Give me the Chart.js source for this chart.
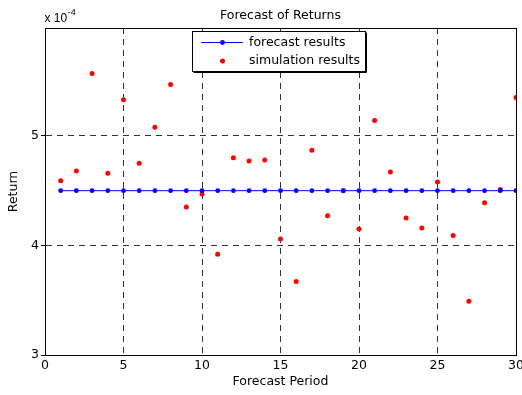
<!DOCTYPE html>
<html>
<head>
<meta charset="utf-8">
<title>Forecast of Returns</title>
<script src="https://cdn.jsdelivr.net/npm/chart.js@4"></script>
<style>
  html, body { margin: 0; padding: 0; background: #fff; }
  #wrap { width: 522px; height: 395px; }
</style>
</head>
<body>
<div id="wrap"><canvas id="chart"></canvas></div>
<script>
// returns are in units of 10^-4 (the axis shows "x 10^-4")
const periods = [1, 2, 3, 4, 5, 6, 7, 8, 9, 10, 11, 12, 13, 14, 15, 16, 17, 18, 19, 20, 21, 22, 23, 24, 25, 26, 27, 28, 29, 30];
const forecast = [4.5, 4.5, 4.5, 4.5, 4.5, 4.5, 4.5, 4.5, 4.5, 4.5, 4.5, 4.5, 4.5, 4.5, 4.5, 4.5, 4.5, 4.5, 4.5, 4.5, 4.5, 4.5, 4.5, 4.5, 4.5, 4.5, 4.5, 4.5, 4.5, 4.5];
const simulation = [4.59, 4.68, 5.57, 4.66, 5.33, 4.75, 5.08, 5.47, 4.35, 4.47, 3.92, 4.80, 4.77, 4.78, 4.06, 3.67, 4.87, 4.27, 4.50, 4.15, 5.14, 4.67, 4.25, 4.16, 4.58, 4.09, 3.49, 4.39, 4.51, 5.35];
const xTicks = [0, 5, 10, 15, 20, 25, 30];
const yTicks = [3, 4, 5];

const FONT = '"DejaVu Sans", sans-serif';
const GRID = 'rgba(0,0,0,0.8)';

// MATLAB-ish extras: frame box, title, exponent label and the legend inside the axes
const matlabFrame = {
  id: 'matlabFrame',
  afterDraw(chart) {
    const { ctx, chartArea: a } = chart;
    const ds = chart.data.datasets;
    ctx.save();

    // axes box
    ctx.strokeStyle = '#000';
    ctx.lineWidth = 1;
    ctx.strokeRect(Math.round(a.left) + 0.5, Math.round(a.top) + 0.5,
      Math.round(a.right - a.left), Math.round(a.bottom - a.top));

    // title
    ctx.fillStyle = '#000';
    ctx.font = '12.5px ' + FONT;
    ctx.textAlign = 'center';
    ctx.textBaseline = 'alphabetic';
    ctx.fillText('Forecast of Returns', (a.left + a.right) / 2, 18.5);

    // exponent label
    ctx.textAlign = 'left';
    ctx.font = '12px "Liberation Sans", Arial, sans-serif';
    ctx.fillText('x 10', 44.5, 21.7);
    const w = ctx.measureText('x 10').width;
    ctx.font = '9px "Liberation Sans", Arial, sans-serif';
    ctx.fillText('-4', 44.5 + w + 0.5, 15);

    // legend
    const lx = 192.5, ly = 31.5, lw = 173, lh = 40;
    ctx.fillStyle = '#fff';
    ctx.fillRect(lx, ly, lw, lh);
    ctx.strokeStyle = '#000';
    ctx.strokeRect(lx, ly, lw, lh);
    ctx.beginPath();
    ctx.moveTo(lx + 1, ly + lh + 1);
    ctx.lineTo(lx + lw + 1, ly + lh + 1);
    ctx.lineTo(lx + lw + 1, ly + 1);
    ctx.stroke();

    const row1 = 42.5, row2 = 61;
    ctx.strokeStyle = ds[0].borderColor;
    ctx.beginPath();
    ctx.moveTo(201, row1);
    ctx.lineTo(243, row1);
    ctx.stroke();
    ctx.fillStyle = ds[0].backgroundColor;
    ctx.beginPath();
    ctx.arc(222.5, row1, ds[0].pointRadius, 0, Math.PI * 2);
    ctx.fill();
    ctx.fillStyle = ds[1].backgroundColor;
    ctx.beginPath();
    ctx.arc(222.5, row2, ds[1].pointRadius, 0, Math.PI * 2);
    ctx.fill();

    ctx.fillStyle = '#000';
    ctx.font = '12.5px ' + FONT;
    ctx.textBaseline = 'middle';
    ctx.fillText(ds[0].label, 249, row1 + 0.5);
    ctx.fillText(ds[1].label, 249, row2);
    ctx.restore();
  }
};

new Chart(document.getElementById('chart'), {
  type: 'line',
  data: {
    datasets: [
      {
        label: 'forecast results',
        data: periods.map((p, i) => ({ x: p, y: forecast[i] })),
        borderColor: '#0000ff',
        backgroundColor: '#0000ff',
        borderWidth: 1,
        pointRadius: 2.4,
        pointBorderWidth: 0,
        tension: 0
      },
      {
        label: 'simulation results',
        data: periods.map((p, i) => ({ x: p, y: simulation[i] })),
        showLine: false,
        borderColor: '#ff0000',
        backgroundColor: '#ff0000',
        pointRadius: 2.5,
        pointBorderWidth: 0
      }
    ]
  },
  options: {
    responsive: true,
    maintainAspectRatio: false,
    animation: false,
    layout: { padding: { top: 28, right: 6, left: 0, bottom: 0 } },
    plugins: {
      legend: { display: false },
      tooltip: { enabled: false }
    },
    scales: {
      x: {
        type: 'linear',
        min: 0,
        max: 30,
        afterBuildTicks: s => { s.ticks = xTicks.map(v => ({ value: v })); },
        afterFit: s => { s.height = 40; s.paddingLeft = 0; s.paddingRight = 0; },
        ticks: { color: '#000', padding: 3, maxRotation: 0, font: { family: FONT, size: 12.5 } },
        grid: {
          // edges are covered by the axes box
          color: c => (c.tick && (c.tick.value === 0 || c.tick.value === 30)) ? 'rgba(0,0,0,0)' : GRID,
          lineWidth: 1,
          drawTicks: false
        },
        border: { color: '#000', dash: [6, 5] },
        title: {
          display: true,
          text: 'Forecast Period',
          color: '#000',
          font: { family: FONT, size: 12.5 },
          padding: { top: 0, bottom: 6 }
        }
      },
      y: {
        min: 3,
        max: 5.985,
        afterBuildTicks: s => { s.ticks = yTicks.map(v => ({ value: v })); },
        afterFit: s => { s.width = 45; },
        ticks: { color: '#000', padding: 2, font: { family: FONT, size: 12.5 }, callback: v => String(v) },
        grid: { color: GRID, lineWidth: 1, drawTicks: true, tickLength: 4, tickColor: '#000' },
        border: { color: '#000', dash: [6, 5] },
        title: {
          display: true,
          text: 'Return',
          color: '#000',
          font: { family: FONT, size: 12.5 },
          padding: { top: 6.4, bottom: 0 }
        }
      }
    }
  },
  plugins: [matlabFrame]
});
</script>
</body>
</html>
